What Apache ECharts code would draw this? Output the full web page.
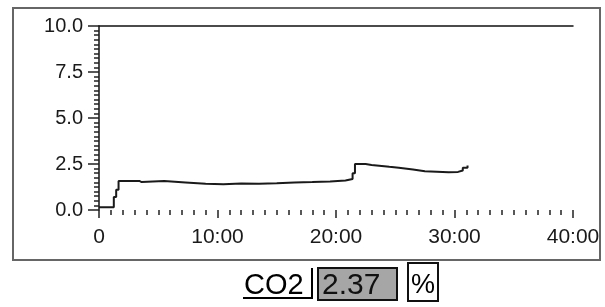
<!DOCTYPE html>
<html>
<head>
<meta charset="utf-8">
<script src="https://cdn.jsdelivr.net/npm/echarts@6/dist/echarts.min.js"></script>
<style>
  html, body { margin: 0; padding: 0; background: #fff; }
  #chart { width: 605px; height: 307px; }
</style>
</head>
<body>
<div id="chart"></div>
<script>
// 时间 (分钟) 与 CO2 读数 (%)
const minutes = [0, 1.25, 1.45, 1.65, 3.4, 3.6, 5.5, 7.3, 9.0, 10.5, 12.0, 13.5, 15.0, 16.5, 18.0, 19.5, 20.8, 21.4, 21.6, 22.5, 23.0, 24.5, 25.3, 26.5, 27.5, 29.5, 30.3, 30.7, 31.1];
const co2 = [0.15, 0.7, 1.1, 1.58, 1.52, 1.58, 1.5, 1.42, 1.4, 1.44, 1.42, 1.45, 1.5, 1.52, 1.55, 1.6, 1.68, 2.0, 2.5, 2.45, 2.35, 2.3, 2.2, 2.1, 2.05, 2.07, 2.15, 2.3, 2.42];
const xTicks = [0, 10, 20, 30, 40];
const yTicks = [0, 2.5, 5, 7.5, 10];
const readout = { name: "CO2", value: "2.37", unit: "%" };

const seriesData = minutes.map((m, i) => [m, co2[i]]);
const font = "Liberation Sans, Arial, sans-serif";

const chart = echarts.init(document.getElementById("chart"), null, { renderer: "canvas" });

const option = {
  animation: false,
  backgroundColor: "#fff",
  grid: { left: 99, right: 32, top: 26, bottom: 97 },
  xAxis: [
    {
      type: "value",
      min: xTicks[0],
      max: xTicks[xTicks.length - 1],
      interval: 10,
      position: "bottom",
      offset: 7,
      axisLine: { show: false },
      axisTick: { show: true, length: 8, lineStyle: { color: "#222", width: 1.5 } },
      minorTick: { show: true, splitNumber: 10, length: 5, lineStyle: { color: "#222", width: 1.5 } },
      splitLine: { show: false },
      axisLabel: {
        margin: 10,
        color: "#1a1a1a",
        fontSize: 21,
        fontFamily: font,
        formatter: (v) => (v === 0 ? "0" : v + ":00"),
      },
    },
    {
      type: "value",
      min: 0,
      max: 40,
      position: "top",
      axisLine: { show: true, lineStyle: { color: "#111", width: 1.5 } },
      axisTick: { show: false },
      axisLabel: { show: false },
      splitLine: { show: false },
    },
  ],
  yAxis: {
    type: "value",
    min: yTicks[0],
    max: yTicks[yTicks.length - 1],
    interval: 2.5,
    axisLine: { show: true, lineStyle: { color: "#111", width: 1.5 } },
    axisTick: { show: true, length: 11, lineStyle: { color: "#222", width: 1.5 } },
    minorTick: { show: true, splitNumber: 10, length: 5, lineStyle: { color: "#222", width: 1.5 } },
    splitLine: { show: false },
    axisLabel: {
      margin: 16,
      color: "#1a1a1a",
      fontSize: 20,
      fontFamily: font,
      formatter: (v) => v.toFixed(1),
    },
  },
  series: [
    {
      type: "line",
      step: "end",
      data: seriesData,
      showSymbol: false,
      lineStyle: { color: "#1a1a1a", width: 2 },
    },
  ],
  graphic: [
    // 外框
    {
      type: "rect",
      shape: { x: 13, y: 8, width: 587, height: 252 },
      style: { fill: "none", stroke: "#666", lineWidth: 2 },
    },
    // CO2 标签
    {
      type: "text",
      x: 244,
      y: 286,
      style: { text: readout.name, fill: "#000", font: "29px " + font, textVerticalAlign: "middle", textAlign: "left" },
    },
    {
      type: "polyline",
      shape: { points: [[243, 298], [312, 298], [312, 268]] },
      style: { fill: "none", stroke: "#000", lineWidth: 2 },
    },
    // 数值框
    {
      type: "rect",
      shape: { x: 318, y: 268, width: 79, height: 32 },
      style: { fill: "#a6a6a6", stroke: "#111", lineWidth: 2 },
    },
    {
      type: "text",
      x: 322,
      y: 286,
      style: { text: readout.value, fill: "#111", font: "30px " + font, textVerticalAlign: "middle", textAlign: "left" },
    },
    // 单位框
    {
      type: "rect",
      shape: { x: 408, y: 263, width: 30, height: 38 },
      style: { fill: "#fff", stroke: "#111", lineWidth: 2 },
    },
    {
      type: "text",
      x: 423,
      y: 286,
      style: { text: readout.unit, fill: "#000", font: "27px " + font, textVerticalAlign: "middle", textAlign: "center" },
    },
  ],
};

chart.setOption(option);
</script>
</body>
</html>
